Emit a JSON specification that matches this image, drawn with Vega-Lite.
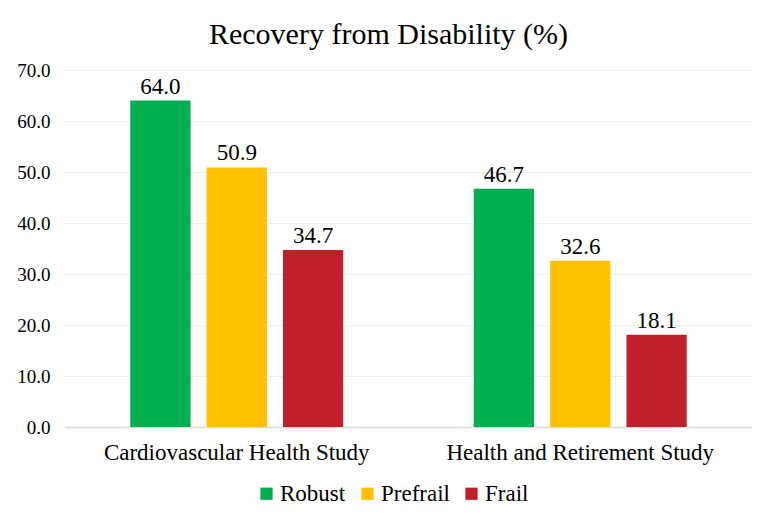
{
  "$schema": "https://vega.github.io/schema/vega-lite/v6.json",
  "autosize": "none",
  "width": 687,
  "height": 357,
  "padding": {"left": 65, "top": 70, "right": 24, "bottom": 99},
  "background": "white",
  "title": {
    "text": "Recovery from Disability (%)",
    "font": "Liberation Serif, Times New Roman, serif",
    "fontSize": 30,
    "fontWeight": "normal",
    "color": "#000000",
    "anchor": "middle",
    "offset": 11,
    "dx": -20
  },
  "data": {
    "values": [
      {"study": "Cardiovascular Health Study", "group": "Robust", "value": 64.0},
      {"study": "Cardiovascular Health Study", "group": "Prefrail", "value": 50.9},
      {"study": "Cardiovascular Health Study", "group": "Frail", "value": 34.7},
      {"study": "Health and Retirement Study", "group": "Robust", "value": 46.7},
      {"study": "Health and Retirement Study", "group": "Prefrail", "value": 32.6},
      {"study": "Health and Retirement Study", "group": "Frail", "value": 18.1}
    ]
  },
  "encoding": {
    "x": {
      "field": "study",
      "type": "nominal",
      "sort": null,
      "title": null,
      "scale": {"paddingInner": 0.38, "paddingOuter": 0.19},
      "axis": {
        "labelAngle": 0,
        "labelFont": "Liberation Serif, Times New Roman, serif",
        "labelFontSize": 23,
        "labelColor": "#000000",
        "labelPadding": 14,
        "labelLimit": 0,
        "ticks": false,
        "domainColor": "#d9d9d9",
        "domainWidth": 1.5
      }
    },
    "xOffset": {
      "field": "group",
      "type": "nominal",
      "sort": ["Robust", "Prefrail", "Frail"],
      "scale": {"paddingInner": 0.21, "paddingOuter": 0}
    },
    "y": {
      "field": "value",
      "type": "quantitative",
      "title": null,
      "scale": {"domain": [0, 70]},
      "axis": {
        "values": [0, 10, 20, 30, 40, 50, 60, 70],
        "format": ".1f",
        "labelFont": "Liberation Serif, Times New Roman, serif",
        "labelFontSize": 19,
        "labelColor": "#000000",
        "labelPadding": 15,
        "ticks": false,
        "domain": false,
        "grid": true,
        "gridColor": "#dcdcdc",
        "gridDash": [2, 2],
        "gridWidth": 1
      }
    }
  },
  "layer": [
    {
      "mark": {"type": "bar"},
      "encoding": {
        "color": {
          "field": "group",
          "type": "nominal",
          "sort": ["Robust", "Prefrail", "Frail"],
          "scale": {"domain": ["Robust", "Prefrail", "Frail"], "range": ["#00b050", "#ffc000", "#c0202a"]},
          "legend": {
            "title": null,
            "orient": "none",
            "legendX": 190,
            "legendY": 412,
            "direction": "horizontal",
            "symbolType": "square",
            "symbolSize": 150,
            "symbolStrokeWidth": 0,
            "symbolOpacity": 1,
            "labelFont": "Liberation Serif, Times New Roman, serif",
            "labelFontSize": 23,
            "labelColor": "#000000",
            "columnPadding": 10,
            "labelOffset": 2
          }
        }
      }
    },
    {
      "mark": {"type": "text", "dy": -14, "font": "Liberation Serif, Times New Roman, serif", "fontSize": 23, "color": "#000000"},
      "encoding": {
        "text": {"field": "value", "type": "quantitative", "format": ".1f"}
      }
    }
  ],
  "config": {"view": {"stroke": null}}
}
